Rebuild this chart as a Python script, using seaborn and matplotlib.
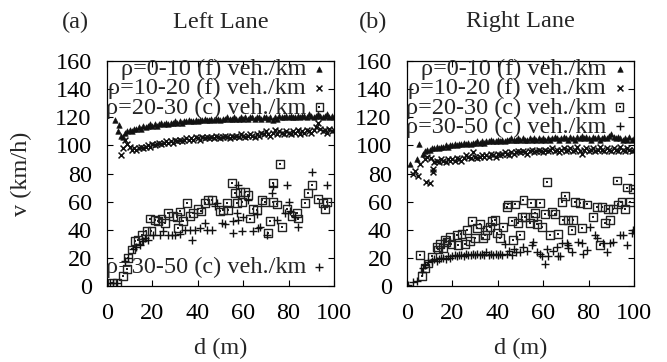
import matplotlib
matplotlib.use("Agg")
import matplotlib.pyplot as plt
import seaborn as sns
import pandas as pd

# ---------------- data ----------------
labels = ["ρ=0-10 (f) veh./km", "ρ=10-20 (f) veh./km",
          "ρ=20-30 (c) veh./km", "ρ=30-50 (c) veh./km"]
panel_tags = ["(a)", "(b)"]
panel_titles = ["Left Lane", "Right Lane"]
x_ticks = [0, 20, 40, 60, 80, 100]
y_ticks = [0, 20, 40, 60, 80, 100, 120, 140, 160]

# Left lane, rho 0-10 (triangles)
L1_d = [3.5, 4.8, 5.3, 6, 7, 8, 9, 10, 11, 12, 13, 14, 15, 16, 17, 18, 19, 20,
        21, 22, 23, 24, 25, 26, 27, 28, 29, 30, 31, 32, 33, 34, 35, 36, 37, 38, 39, 40,
        41, 42, 43, 44, 45, 46, 47, 48, 49, 50, 51, 52, 53, 54, 55, 56, 57, 58, 59, 60,
        61, 62, 63, 64, 65, 66, 67, 68, 69, 70, 71, 72, 73, 74, 75, 76, 77, 78, 79, 80,
        81, 82, 83, 84, 85, 86, 87, 88, 89, 90, 91, 92, 93, 94, 95, 96, 97, 98, 99, 100]
L1_v = [118, 110, 114.5, 107, 106, 109, 110, 111, 110, 112, 112, 113, 112, 114, 113, 114, 115, 114,
        115, 114, 115, 116, 115, 116, 115, 116, 116, 117, 116, 117, 116, 117, 117, 118, 117, 117, 118, 117,
        118, 118, 119, 118, 118, 119, 118, 119, 119, 118, 119, 119, 120, 119, 119, 120, 119, 119, 120, 119,
        120, 119, 120, 120, 119, 120, 120, 119, 120, 120, 119, 120, 118, 120, 119, 121, 120, 120, 121, 120,
        121, 120, 120, 121, 120, 121, 121, 120, 122, 121, 120, 121, 122, 121, 120, 121, 122, 120, 121, 120]

# Left lane, rho 10-20 (crosses)
L2_d = [6, 7, 8, 9, 10, 11, 12, 13, 14, 15, 16, 17, 18, 19, 20,
        21, 22, 23, 24, 25, 26, 27, 28, 29, 30, 31, 32, 33, 34, 35, 36, 37, 38, 39, 40,
        41, 42, 43, 44, 45, 46, 47, 48, 49, 50, 51, 52, 53, 54, 55, 56, 57, 58, 59, 60,
        61, 62, 63, 64, 65, 66, 67, 68, 69, 70, 71, 72, 73, 74, 75, 76, 77, 78, 79, 80,
        81, 82, 83, 84, 85, 86, 87, 88, 89, 90, 91, 92, 93, 94, 95, 96, 97, 98, 99, 100]
L2_v = [93, 98, 104, 101, 99, 97, 98, 97, 98, 99, 98, 99, 100, 99, 101,
        100, 101, 102, 101, 102, 103, 102, 103, 102, 104, 103, 104, 103, 104, 105, 104, 105, 104, 106, 105,
        104, 106, 105, 106, 105, 106, 105, 107, 106, 105, 106, 107, 106, 105, 107, 106, 107, 106, 108, 107,
        106, 107, 108, 107, 106, 108, 107, 109, 108, 110, 108, 107, 109, 111, 108, 110, 109, 108, 110, 109,
        108, 110, 109, 111, 108, 110, 109, 111, 110, 109, 111, 113, 116, 112, 110, 111, 109, 112, 110, 111]

# Left lane, rho 20-30 (boxes)
L3_d = [2.1, 4.3, 7.2, 8.7, 9.4, 10.8, 12.3, 13.8, 15.3, 17.4, 18.9, 19.6, 21.1, 22.6, 24, 25.5,
        27, 29.2, 30.7, 31.4, 32.2, 33.6, 35.1, 36.6, 38, 40.2, 41.5, 43.2, 44.6, 46.1, 49.8, 51.2,
        52.7, 53.4, 54.9, 56.4, 57.1, 58.6, 59.3, 60.8, 62.2, 63, 64.5, 66, 68.2, 69.6, 71.1, 71.8,
        73.3, 73.3, 74.8, 76.2, 77, 79.2, 81.3, 83.6, 84.3, 87.2, 88.7, 90.2, 93.1, 95.3, 96, 96.8]
L3_v = [2, 2, 7, 12, 20, 26, 32, 33, 36, 39, 48, 39, 47, 46, 48, 45,
        52, 50, 49, 41, 53, 46, 59, 50, 52, 55, 53, 59, 61, 61, 53, 54,
        59, 54, 73, 66, 59, 67, 60, 67, 65, 48, 55, 54, 61, 60, 38, 46,
        73, 60, 58, 87, 42, 55, 50, 52, 48, 59, 66, 72, 62, 59, 55, 60]

# Left lane, rho 30-50 (plus)
L4_d = [1.3, 2.7, 4.2, 7.9, 9.4, 11.6, 13, 14.5, 16, 16.7, 18.2, 20.4, 23.3, 24.8, 27, 28.5,
        30, 32.2, 34.4, 36.6, 37.3, 38.8, 41, 43.2, 43.9, 46.1, 47.6, 48.3, 50.5, 52, 55.6, 55.6,
        57.1, 57.8, 57.8, 59.3, 60, 62.2, 64.5, 66, 66.6, 67.4, 70.3, 72.6, 73.3, 74.8, 78.5, 79.2,
        80, 80.7, 82.8, 84.3, 90.2, 96.8]
L4_v = [2, 2, 2, 18, 20, 26, 28, 29, 32, 34, 33, 36, 36, 39, 36, 36,
        36, 37, 40, 40, 33, 40, 41, 45, 40, 40, 57, 59, 45, 44, 46, 38,
        52, 72, 47, 39, 49, 61, 39, 51, 41, 42, 36, 66, 71, 47, 52, 72,
        60, 53, 49, 42, 81, 72]

# Right lane, rho 0-10 (triangles)
R1_d = [1.3, 4.5, 5.4, 7, 8, 9, 10, 11, 12, 13, 14, 15, 16, 17, 18, 19, 20,
        21, 22, 23, 24, 25, 26, 27, 28, 29, 30, 31, 32, 33, 34, 35, 36, 37, 38, 39, 40,
        41, 42, 43, 44, 45, 46, 47, 48, 49, 50, 51, 52, 53, 54, 55, 56, 57, 58, 59, 60,
        61, 62, 63, 64, 65, 66, 67, 68, 69, 70, 71, 72, 73, 74, 75, 76, 77, 78, 79, 80,
        81, 82, 83, 84, 85, 86, 87, 88, 89, 90, 91, 92, 93, 94, 95, 96, 97, 98, 99, 100]
R1_v = [87, 90, 101, 94, 96, 97, 97, 98, 98, 99, 98, 99, 99, 100, 99, 100, 100,
        101, 100, 101, 101, 102, 101, 102, 101, 102, 102, 103, 102, 103, 102, 103, 103, 104, 103, 103, 104,
        103, 104, 103, 104, 104, 105, 104, 104, 105, 104, 105, 104, 104, 105, 104, 105, 104, 105, 104, 105,
        104, 105, 104, 105, 106, 105, 104, 105, 106, 105, 104, 106, 105, 104, 106, 105, 107, 105, 106, 105,
        104, 106, 105, 106, 104, 105, 106, 105, 107, 108, 106, 105, 106, 105, 104, 105, 104, 106, 104, 105]

# Right lane, rho 10-20 (crosses)
R2_d = [2.8, 3.5, 5, 5.7, 8.4, 10, 11.5, 11.6, 8, 9, 10.5, 12, 13, 14, 15, 16, 17, 18, 19, 20,
        21, 22, 23, 24, 25, 26, 27, 28, 29, 30, 31, 32, 33, 34, 35, 36, 37, 38, 39, 40,
        41, 42, 43, 44, 45, 46, 47, 48, 49, 50, 51, 52, 53, 54, 55, 56, 57, 58, 59, 60,
        61, 62, 63, 64, 65, 66, 67, 68, 69, 70, 71, 72, 73, 74, 75, 76, 77, 78, 79, 80,
        81, 82, 83, 84, 85, 86, 87, 88, 89, 90, 91, 92, 93, 94, 95, 96, 97, 98, 99, 100]
R2_v = [80, 82, 78, 87, 74, 73, 81, 83, 90, 92, 91, 88, 89, 88, 90, 89, 88, 90, 89, 90,
        89, 91, 90, 89, 91, 93, 92, 91, 95, 92, 91, 92, 93, 92, 93, 92, 94, 93, 92, 94,
        93, 94, 95, 94, 93, 95, 94, 95, 96, 95, 96, 95, 94, 96, 97, 95, 96, 97, 96, 95,
        97, 96, 97, 98, 96, 97, 95, 97, 98, 96, 97, 98, 96, 97, 99, 96, 94, 97, 98, 96,
        97, 98, 96, 97, 99, 97, 96, 98, 97, 96, 98, 97, 96, 99, 97, 96, 98, 97, 96, 97]

# Right lane, rho 20-30 (boxes)
R3_d = [5.7, 6.5, 7.9, 9.4, 10.9, 13.1, 13.8, 14.5, 16, 16.7, 17.4, 18.9, 19.6, 21.9, 22.6, 24,
        25.5, 26.3, 27.7, 28.5, 30, 30.7, 32.2, 33.6, 34.4, 35.1, 36.6, 37.3, 38.8, 39.5, 41, 42.4,
        43.9, 44.6, 46.1, 46.8, 47.6, 49, 49.8, 50.5, 51.3, 52, 54.2, 54.6, 55.6, 56.4, 57.1, 58.6,
        59.3, 60.8, 61.5, 63, 63.7, 65.2, 66.7, 68.1, 68.9, 69.6, 71.1, 72.5, 73.3, 74, 76.2, 77,
        79.2, 82.1, 83.6, 85, 85.8, 87.2, 88.7, 89.4, 90.9, 92.4, 93.1, 94.5, 96, 96.8, 98.2, 99.7]
R3_v = [22, 7, 13, 16, 21, 28, 26, 30, 27, 33, 31, 35, 30, 36, 29, 37,
        30, 40, 32, 46, 34, 41, 44, 34, 36, 40, 42, 46, 47, 38, 34, 42,
        56, 58, 46, 33, 58, 45, 36, 49, 61, 49, 45, 59, 49, 52, 44, 59,
        42, 51, 74, 36, 53, 51, 37, 60, 47, 64, 47, 40, 47, 60, 59, 41,
        58, 49, 56, 29, 56, 45, 55, 47, 55, 75, 58, 60, 55, 70, 60, 69]

# Right lane, rho 30-50 (plus)
R4_d = [0.5, 2.8, 4.2, 6.5, 7.2, 7.9, 9.4, 10.9, 12, 13, 14, 15, 16, 17, 18, 19, 20,
        21, 22, 23, 24, 25, 26, 27, 28, 29, 30, 31, 32, 33, 34, 35, 36, 37, 38, 39, 40,
        41, 42, 43.2, 44, 45, 46.1, 47, 48, 49.8, 51.3, 52.7, 54.9, 55.6, 57.1, 58.6, 59.3,
        60.8, 61.5, 62.2, 64.5, 66, 66.7, 67.4, 68.1, 70.3, 71, 71.1, 72.6, 75.5, 76.9, 77.6,
        79.2, 80.6, 82.8, 83.6, 86.5, 88, 89.4, 90.9, 93.8, 95.3, 96.8, 99, 99.7]
R4_v = [1, 3, 3.5, 10, 13, 15, 17, 18, 19, 18, 19, 20, 20, 19, 21, 20, 21,
        22, 21, 22, 22, 21, 23, 22, 22, 23, 22, 23, 22, 23, 22, 24, 22, 23, 22, 23, 22,
        23, 22, 30, 23, 25, 22, 26, 24, 24.5, 28, 25, 29, 31.6, 24.4, 23, 21.5,
        16, 26.5, 21.5, 25, 28, 21, 21, 30.3, 30.3, 27, 29.5, 24, 31.6, 30.3, 22.5,
        25.6, 42, 36, 34, 30.3, 24.4, 30.3, 31.6, 36.3, 36.3, 29.2, 37.5, 40]

# ---------------- style ----------------
sns.set_style("ticks")
plt.rcParams["font.family"] = ["Liberation Serif", "DejaVu Serif"]

FS = 17.5
ink = "#111111"

fig = plt.figure(figsize=(6.67, 3.62), dpi=100)
ax_l = fig.add_axes([0.1604, 0.2099, 0.3403, 0.6216])
ax_r = fig.add_axes([0.6102, 0.2099, 0.3403, 0.6216])


def draw_panel(ax, d1, v1, d2, v2, d3, v3, d4, v4):
    sns.scatterplot(x=d1, y=v1, ax=ax, marker="^", s=16, color=ink,
                    edgecolor=ink, linewidth=0.4, legend=False)
    h1 = ax.collections[-1]
    sns.scatterplot(x=d2, y=v2, ax=ax, marker="x", s=18, color=ink,
                    linewidth=1.1, legend=False)
    h2 = ax.collections[-1]
    sns.scatterplot(x=d3, y=v3, ax=ax, marker="s", s=32, facecolor="none",
                    edgecolor="#222222", linewidth=1.0, legend=False)
    h3a = ax.collections[-1]
    sns.scatterplot(x=d3, y=v3, ax=ax, marker="s", s=2, color="#222222",
                    linewidth=0, legend=False)
    h3b = ax.collections[-1]
    sns.scatterplot(x=d4, y=v4, ax=ax, marker="+", s=32, color=ink,
                    linewidth=1.0, legend=False)
    h4 = ax.collections[-1]

    ax.set_xlim(0, 100)
    ax.set_ylim(0, 160)
    ax.set_xticks(x_ticks)
    ax.set_yticks(y_ticks)
    ax.tick_params(direction="in", length=4, width=0.8, top=True, right=True,
                   labelsize=FS, colors="black")
    ax.tick_params(axis="x", pad=12)
    ax.tick_params(axis="y", pad=11)
    for sp in ax.spines.values():
        sp.set_visible(True)
        sp.set_linewidth(0.9)
        sp.set_color("black")
    ax.set_xlabel("d (m)", fontsize=FS, labelpad=10.5)
    ax.set_ylabel("")
    return [h1, h2, (h3a, h3b), h4]


hl = draw_panel(ax_l, L1_d, L1_v, L2_d, L2_v, L3_d, L3_v, L4_d, L4_v)
hr = draw_panel(ax_r, R1_d, R1_v, R2_d, R2_v, R3_d, R3_v, R4_d, R4_v)

leg_kw = dict(frameon=False, markerfirst=False, fontsize=FS, handlelength=0.5,
              handletextpad=0.3, labelspacing=-0.12, borderpad=0.0,
              borderaxespad=0.0, markerscale=1.0)

legL = ax_l.legend(hl[:3], labels[:3], loc="upper right",
                   bbox_to_anchor=(0.963, 1.012), **leg_kw)
ax_l.add_artist(legL)
ax_l.legend([hl[3]], [labels[3]], loc="lower right",
            bbox_to_anchor=(0.963, 0.035), **leg_kw)
ax_r.legend(hr, labels, loc="upper right",
            bbox_to_anchor=(0.963, 1.012), **leg_kw)

ax_l.set_ylabel("v (km/h)", fontsize=FS)
ax_l.yaxis.set_label_coords(-0.33, 0.5)

fig.text(75 / 667, 1 - 22 / 362, panel_tags[0], fontsize=FS, ha="center", va="center")
fig.text(221 / 667, 1 - 22 / 362, panel_titles[0], fontsize=FS, ha="center", va="center")
fig.text(373 / 667, 1 - 22 / 362, panel_tags[1], fontsize=FS, ha="center", va="center")
fig.text(520 / 667, 1 - 22 / 362, panel_titles[1], fontsize=FS, ha="center", va="center")

fig.savefig("out.png", dpi=100, facecolor="white")
